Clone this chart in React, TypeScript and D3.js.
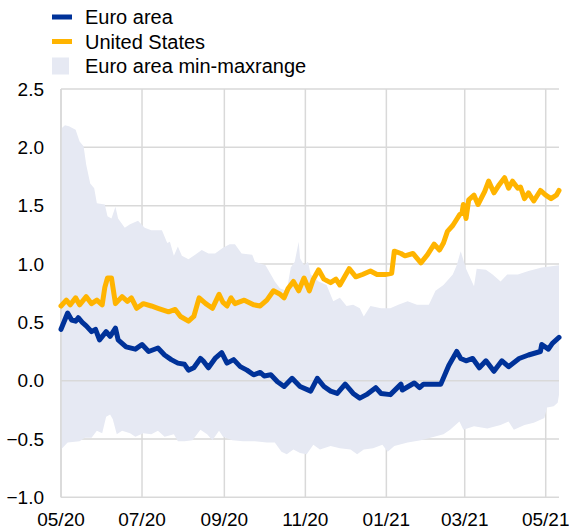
import React from "react";
import * as d3 from "d3";

// Days since 1 May 2020, value (percent)
const startDate = new Date(2020, 4, 1);
const endDate = new Date(2021, 4, 11);

const euroArea: [number, number][] = [
  [0,0.44],[5,0.58],[8,0.52],[11,0.51],[13,0.54],[16,0.5],[19,0.47],[23,0.42],[26,0.44],[29,0.35],[34,0.42],[37,0.38],[41,0.45],[43,0.35],[49,0.29],[56,0.27],[61,0.31],[66,0.25],[73,0.28],[78,0.22],[83,0.18],[88,0.15],[93,0.14],[96,0.09],[100,0.11],[105,0.19],[107,0.17],[111,0.11],[116,0.19],[121,0.24],[125,0.15],[130,0.18],[135,0.12],[140,0.09],[145,0.05],[150,0.07],[153,0.04],[158,0.05],[163,-0.01],[168,-0.05],[174,0.02],[180,-0.05],[188,-0.09],[193,0.02],[198,-0.05],[203,-0.09],[208,-0.11],[214,-0.03],[220,-0.11],[225,-0.15],[230,-0.12],[237,-0.06],[241,-0.11],[248,-0.12],[256,-0.03],[257,-0.08],[266,-0.02],[270,-0.06],[273,-0.03],[286,-0.03],[292,0.13],[298,0.25],[301,0.19],[305,0.17],[310,0.19],[315,0.11],[320,0.17],[326,0.08],[332,0.17],[337,0.12],[345,0.19],[352,0.22],[361,0.25],[362,0.31],[367,0.27],[370,0.32],[375,0.37]
];

const unitedStates: [number, number][] = [
  [0,0.64],[4,0.69],[7,0.65],[11,0.71],[14,0.65],[19,0.72],[23,0.66],[27,0.69],[31,0.65],[33,0.8],[35,0.88],[38,0.88],[41,0.66],[46,0.72],[50,0.68],[53,0.71],[57,0.62],[62,0.66],[68,0.64],[73,0.62],[81,0.59],[86,0.61],[90,0.55],[96,0.51],[100,0.55],[104,0.71],[109,0.66],[114,0.62],[119,0.74],[122,0.67],[125,0.64],[128,0.71],[131,0.66],[138,0.69],[145,0.65],[150,0.64],[155,0.69],[160,0.77],[165,0.74],[168,0.71],[171,0.79],[175,0.85],[179,0.77],[183,0.88],[187,0.77],[190,0.87],[194,0.95],[198,0.87],[203,0.84],[207,0.87],[210,0.82],[217,0.96],[222,0.89],[227,0.91],[233,0.94],[238,0.91],[244,0.91],[249,0.92],[251,1.11],[256,1.09],[259,1.07],[265,1.09],[271,1.01],[276,1.08],[281,1.17],[285,1.12],[288,1.18],[291,1.28],[295,1.33],[300,1.42],[302,1.44],[303,1.51],[305,1.39],[307,1.55],[311,1.59],[314,1.51],[319,1.62],[322,1.71],[326,1.61],[330,1.68],[334,1.74],[337,1.65],[340,1.71],[344,1.65],[346,1.66],[349,1.56],[352,1.61],[356,1.54],[361,1.63],[365,1.59],[369,1.56],[373,1.59],[375,1.63]
];

const rangeMax: [number, number][] = [
  [0,2.16],[3,2.19],[6,2.18],[11,2.15],[14,2.05],[17,2.01],[19,1.85],[22,1.69],[25,1.65],[27,1.52],[33,1.51],[35,1.41],[38,1.39],[41,1.49],[43,1.39],[48,1.31],[52,1.34],[58,1.37],[63,1.31],[68,1.29],[76,1.29],[80,1.18],[82,1.19],[85,1.07],[88,1.15],[91,1.07],[96,1.04],[101,1.08],[106,1.12],[111,1.09],[116,1.09],[122,1.14],[127,1.17],[131,1.17],[136,1.09],[144,1.08],[146,1.02],[154,0.99],[159,0.89],[161,0.85],[165,0.79],[170,0.77],[173,0.97],[176,1.02],[179,1.19],[180,1.05],[183,0.99],[186,1.02],[188,0.91],[194,0.85],[200,0.82],[205,0.68],[210,0.71],[215,0.64],[220,0.65],[225,0.62],[228,0.55],[233,0.64],[241,0.62],[248,0.62],[254,0.65],[261,0.68],[268,0.65],[277,0.65],[282,0.77],[288,0.82],[295,0.91],[298,0.99],[301,1.11],[305,0.96],[311,0.81],[313,0.96],[320,0.95],[325,0.91],[331,0.85],[336,0.91],[344,0.91],[352,0.94],[362,0.97],[375,0.99]
];

const rangeMin: [number, number][] = [
  [0,-0.59],[5,-0.53],[14,-0.52],[18,-0.49],[23,-0.49],[27,-0.43],[31,-0.45],[34,-0.31],[37,-0.29],[39,-0.33],[42,-0.46],[46,-0.43],[52,-0.45],[56,-0.48],[62,-0.45],[68,-0.46],[73,-0.43],[78,-0.48],[85,-0.46],[88,-0.52],[93,-0.52],[99,-0.51],[105,-0.42],[110,-0.46],[114,-0.51],[119,-0.43],[122,-0.48],[129,-0.51],[137,-0.52],[146,-0.52],[155,-0.53],[161,-0.53],[166,-0.61],[170,-0.63],[175,-0.59],[180,-0.62],[185,-0.63],[190,-0.55],[195,-0.59],[203,-0.56],[210,-0.58],[218,-0.59],[223,-0.63],[228,-0.59],[235,-0.58],[242,-0.55],[246,-0.61],[251,-0.56],[261,-0.53],[271,-0.51],[281,-0.48],[288,-0.46],[293,-0.42],[300,-0.35],[303,-0.42],[311,-0.39],[321,-0.41],[331,-0.38],[337,-0.35],[341,-0.42],[349,-0.38],[356,-0.36],[364,-0.32],[366,-0.23],[371,-0.22],[374,-0.19],[375,-0.12]
];

const yTicks = [-1, -0.5, 0, 0.5, 1, 1.5, 2, 2.5];
const xTickDates = [
  new Date(2020, 4, 1), new Date(2020, 6, 1), new Date(2020, 8, 1), new Date(2020, 10, 1),
  new Date(2021, 0, 1), new Date(2021, 2, 1), new Date(2021, 4, 1),
];
const legendItems = [
  { label: "Euro area", kind: "line", color: "#003299" },
  { label: "United States", kind: "line", color: "#ffb400" },
  { label: "Euro area min-maxrange", kind: "box", color: "#e6e9f3" },
];

const FONT = "'Liberation Sans', Arial, sans-serif";

export default function App() {
  const W = 569, H = 531;
  const left = 61, right = 559, top = 89, bottom = 497.3;
  const x = d3.scaleTime().domain([startDate, endDate]).range([left, right]);
  const y = d3.scaleLinear().domain([-1, 2.5]).range([bottom, top]);
  const toDate = (d: number) => d3.timeDay.offset(startDate, d);

  const line = d3.line<[number, number]>()
    .x((d) => x(toDate(d[0])))
    .y((d) => y(d[1]));

  const upperPath = line(rangeMax) || "";
  const lowerPath = (line([...rangeMin].reverse()) || "").replace(/^M/, "L");
  const bandPath = upperPath + lowerPath + "Z";

  const fmtY = d3.format(".1f");
  const fmtX = d3.timeFormat("%m/%y");
  const grid = "#d9d9d9";

  return (
    <svg width={W} height={H} style={{ position: "absolute", left: 0, top: 0 }} fontFamily={FONT}>
      <rect x={0} y={0} width={W} height={H} fill="#fff" />
      {yTicks.map((t) => (
        <line key={"gy" + t} x1={left} x2={right} y1={y(t)} y2={y(t)} stroke={grid} strokeWidth={1.5} />
      ))}
      {xTickDates.map((d, i) => (
        <line key={"gx" + i} x1={x(d)} x2={x(d)} y1={top} y2={bottom} stroke={grid} strokeWidth={1.5} />
      ))}
      <path d={bandPath} fill="#e6e9f3" stroke="none" />
      <line x1={left} x2={right} y1={y(0)} y2={y(0)} stroke={grid} strokeWidth={1.5} />
      <line x1={left} x2={left} y1={top} y2={bottom} stroke={grid} strokeWidth={1.5} />
      <path d={line(unitedStates) || ""} fill="none" stroke="#ffb400" strokeWidth={5} strokeLinejoin="round" strokeLinecap="round" />
      <path d={line(euroArea) || ""} fill="none" stroke="#003299" strokeWidth={5} strokeLinejoin="round" strokeLinecap="round" />
      {yTicks.map((t) => (
        <text key={"ty" + t} x={44} y={y(t)} dy="0.35em" textAnchor="end" fontSize={19} fill="#000">
          {fmtY(t)}
        </text>
      ))}
      {xTickDates.map((d, i) => (
        <text key={"tx" + i} x={x(d)} y={526} textAnchor="middle" fontSize={19} fill="#000">
          {fmtX(d)}
        </text>
      ))}
      {legendItems.map((it, i) => {
        const base = 24 + i * 24.5;
        return (
          <g key={it.label}>
            {it.kind === "line" ? (
              <rect x={52} y={base - 9.5} width={20} height={5} fill={it.color} />
            ) : (
              <rect x={52} y={base - 15.5} width={17} height={17} fill={it.color} />
            )}
            <text x={85} y={base} fontSize={20} fill="#000">{it.label}</text>
          </g>
        );
      })}
    </svg>
  );
}
